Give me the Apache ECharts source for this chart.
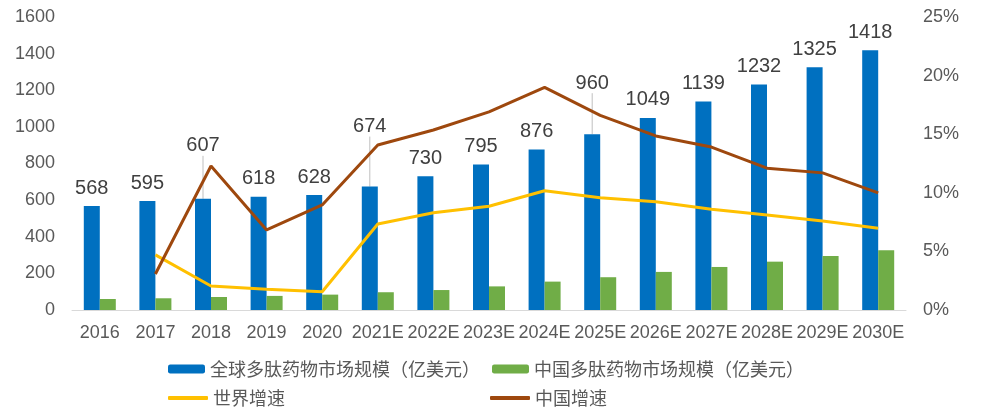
<!DOCTYPE html>
<html>
<head>
<meta charset="utf-8">
<script src="https://cdn.jsdelivr.net/npm/echarts@6/dist/echarts.min.js"></script>
<style>html,body{margin:0;padding:0;background:#fff}#c{width:982px;height:418px}</style>
</head>
<body>
<div id="c"></div>
<script>
const categories = ['2016','2017','2018','2019','2020','2021E','2022E','2023E','2024E','2025E','2026E','2027E','2028E','2029E','2030E'];
const globalMarket = [568,595,607,618,628,674,730,795,876,960,1049,1139,1232,1325,1418];
const chinaMarket = [60,64,71,77,84,97,109,129,155,179,208,235,264,295,326];
const worldGrowth = [null,4.7,2.05,1.77,1.56,7.34,8.3,8.85,10.18,9.58,9.24,8.59,8.1,7.6,6.97];
const chinaGrowth = [null,3.07,12.29,6.83,8.96,14.08,15.36,16.9,19.0,16.6,14.85,13.9,12.1,11.7,10.0];
const leftTicks = [0,200,400,600,800,1000,1200,1400,1600];
const rightTicks = ['0%','5%','10%','15%','20%','25%'];
const labelLift = {2:-35, 5:-42, 9:-33};

const names = ['全球多肽药物市场规模（亿美元）','中国多肽药物市场规模（亿美元）','世界增速','中国增速'];
const chart = echarts.init(document.getElementById('c'));
const legendText = {fontFamily:'Noto Sans CJK SC', fontSize:18, color:'#595959'};
const globalData = globalMarket.map((v,i)=>({value:v, labelLine:{show: labelLift[i] !== undefined}}));
chart.setOption({
  animation:false,
  grid:{left:72, right:76, top:17, bottom:108},
  legend:[
    {data:[names[0]], left:168, top:360, padding:0, itemWidth:37, itemHeight:9, textStyle:legendText},
    {data:[names[1]], left:492, top:360, padding:0, itemWidth:37, itemHeight:9, textStyle:legendText},
    {data:[names[2]], left:168, top:389, padding:0, itemWidth:40, itemHeight:4, icon:'roundRect', textStyle:legendText},
    {data:[names[3]], left:490, top:389, padding:0, itemWidth:40, itemHeight:4, icon:'roundRect', textStyle:legendText}
  ],
  xAxis:{type:'category', data:categories,
    axisLine:{lineStyle:{color:'#D9D9D9', width:1}}, axisTick:{show:false},
    axisLabel:{interval:0, fontFamily:'Liberation Sans', fontSize:18, color:'#595959', margin:14}},
  yAxis:[
    {type:'value', min:leftTicks[0], max:leftTicks[leftTicks.length-1], interval:200,
      splitLine:{show:false}, axisLine:{show:false}, axisTick:{show:false},
      axisLabel:{fontFamily:'Liberation Sans', fontSize:18, color:'#595959', margin:17,
        formatter:(v)=>String(v)}},
    {type:'value', min:0, max:25, interval:5,
      splitLine:{show:false}, axisLine:{show:false}, axisTick:{show:false},
      axisLabel:{fontFamily:'Liberation Sans', fontSize:18, color:'#595959', margin:17,
        formatter:(v)=>rightTicks[Math.round(v/5)]}}
  ],
  series:[
    {name:names[0], type:'bar', data:globalData, barWidth:16, barGap:'0%',
      itemStyle:{color:'#0070C0'},
      label:{show:true, position:'top', distance:8, fontFamily:'Liberation Sans', fontSize:20, color:'#404040'},
      labelLayout:(p)=> labelLift[p.dataIndex] !== undefined ? {dy:labelLift[p.dataIndex]} : {},
      labelLine:{show:false, lineStyle:{color:'#BFBFBF', width:1}}},
    {name:names[1], type:'bar', data:chinaMarket, barWidth:16, itemStyle:{color:'#70AD47'}},
    {name:names[2], type:'line', yAxisIndex:1, data:worldGrowth, symbol:'none',
      lineStyle:{color:'#FFC000', width:3}, itemStyle:{color:'#FFC000'}},
    {name:names[3], type:'line', yAxisIndex:1, data:chinaGrowth, symbol:'none',
      lineStyle:{color:'#9E480E', width:3}, itemStyle:{color:'#9E480E'}}
  ]
});
</script>
</body>
</html>
